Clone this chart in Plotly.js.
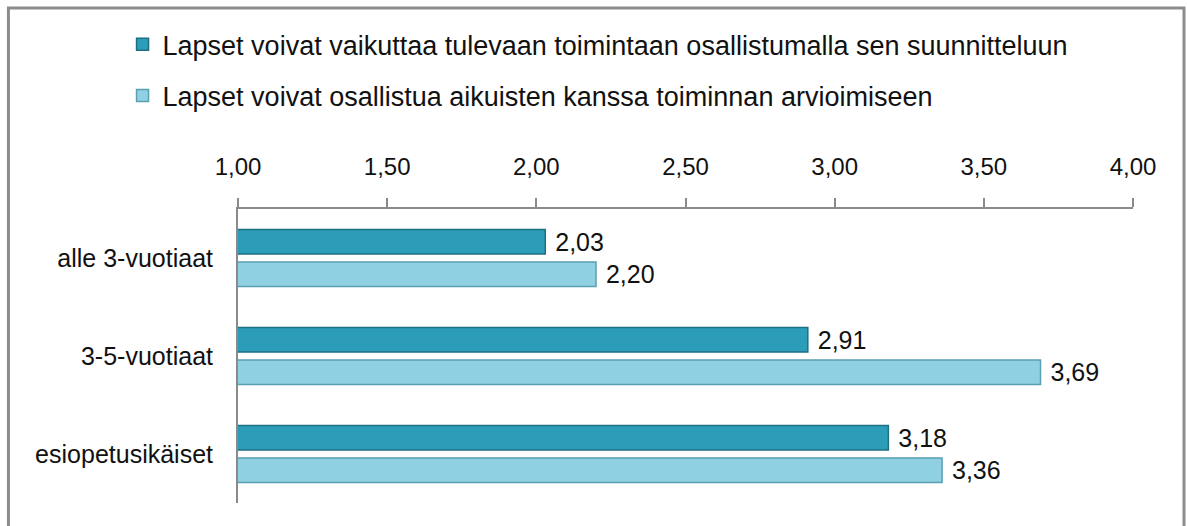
<!DOCTYPE html>
<html>
<head>
<meta charset="utf-8">
<script src="https://cdn.plot.ly/plotly-3.0.1.min.js"></script>
<style>html,body{margin:0;padding:0;background:#fff;}#chart{width:1187px;height:526px;}</style>
</head>
<body>
<div id="chart"></div>
<script>
const categories = ["alle 3-vuotiaat", "3-5-vuotiaat", "esiopetusikäiset"];
const seriesNames = [
  "Lapset voivat vaikuttaa tulevaan toimintaan osallistumalla sen suunnitteluun",
  "Lapset voivat osallistua aikuisten kanssa toiminnan arvioimiseen"
];
const seriesPlanning = [2.03, 2.91, 3.18];
const seriesEvaluation = [2.20, 3.69, 3.36];
const tickValues = [1.0, 1.5, 2.0, 2.5, 3.0, 3.5, 4.0];

const FONT = "'Liberation Sans Narrow', 'Arial Narrow', 'Liberation Sans', Arial, sans-serif";
const fmt = v => ' ' + v.toFixed(2).replace('.', ',');

const traces = [
  {
    type: 'bar', orientation: 'h', name: seriesNames[0], legendgroup: 'a',
    y: categories, x: seriesPlanning,
    text: seriesPlanning.map(fmt), textposition: 'outside', cliponaxis: false,
    constraintext: 'none',
    textfont: {family: FONT, size: 25, color: '#111'},
    marker: {color: '#2C9DB8', line: {color: '#1D6F82', width: 1.5}},
    hoverinfo: 'x+y'
  },
  {
    type: 'bar', orientation: 'h', name: seriesNames[1], legendgroup: 'b',
    y: categories, x: seriesEvaluation,
    text: seriesEvaluation.map(fmt), textposition: 'outside', cliponaxis: false,
    constraintext: 'none',
    textfont: {family: FONT, size: 25, color: '#111'},
    marker: {color: '#8FD1E2', line: {color: '#5B9FB2', width: 1.5}},
    hoverinfo: 'x+y'
  }
];

const layout = {
  width: 1187, height: 526,
  margin: {l: 238, r: 54, t: 209, b: 23, pad: 0},
  paper_bgcolor: '#fff', plot_bgcolor: '#fff',
  font: {family: FONT, size: 24, color: '#111'},
  separators: ',.',
  barmode: 'group', bargap: 0.337, bargroupgap: 0.25,
  showlegend: true,
  legend: {
    x: -0.129, xanchor: 'left', y: 1.642, yanchor: 'top',
    orientation: 'v', traceorder: 'grouped', tracegroupgap: 13,
    font: {family: FONT, size: 27, color: '#111'},
    bgcolor: 'rgba(0,0,0,0)'
  },
  xaxis: {
    side: 'top', range: [1, 4], tickvals: tickValues, tickformat: '.2f',
    ticks: 'outside', ticklen: 9, tickwidth: 2, tickcolor: '#8a8a8a',
    showline: true, linecolor: '#8a8a8a', linewidth: 2,
    showgrid: false, zeroline: false, ticklabelstandoff: 13,
    tickfont: {family: FONT, size: 24, color: '#111'}
  },
  yaxis: {
    autorange: 'reversed', type: 'category',
    showline: true, linecolor: '#8a8a8a', linewidth: 2,
    ticks: '', showgrid: false, zeroline: false, ticklabelstandoff: 18,
    tickfont: {family: FONT, size: 25, color: '#111'}
  },
  shapes: [{
    type: 'rect', xref: 'paper', yref: 'paper',
    x0: -0.2565, x1: 1.0570, y0: -0.09, y1: 1.684,
    line: {color: '#8c8c8c', width: 3}, fillcolor: 'rgba(0,0,0,0)', layer: 'below'
  }]
};

Plotly.newPlot('chart', traces, layout, {displayModeBar: false, staticPlot: true});
</script>
</body>
</html>
